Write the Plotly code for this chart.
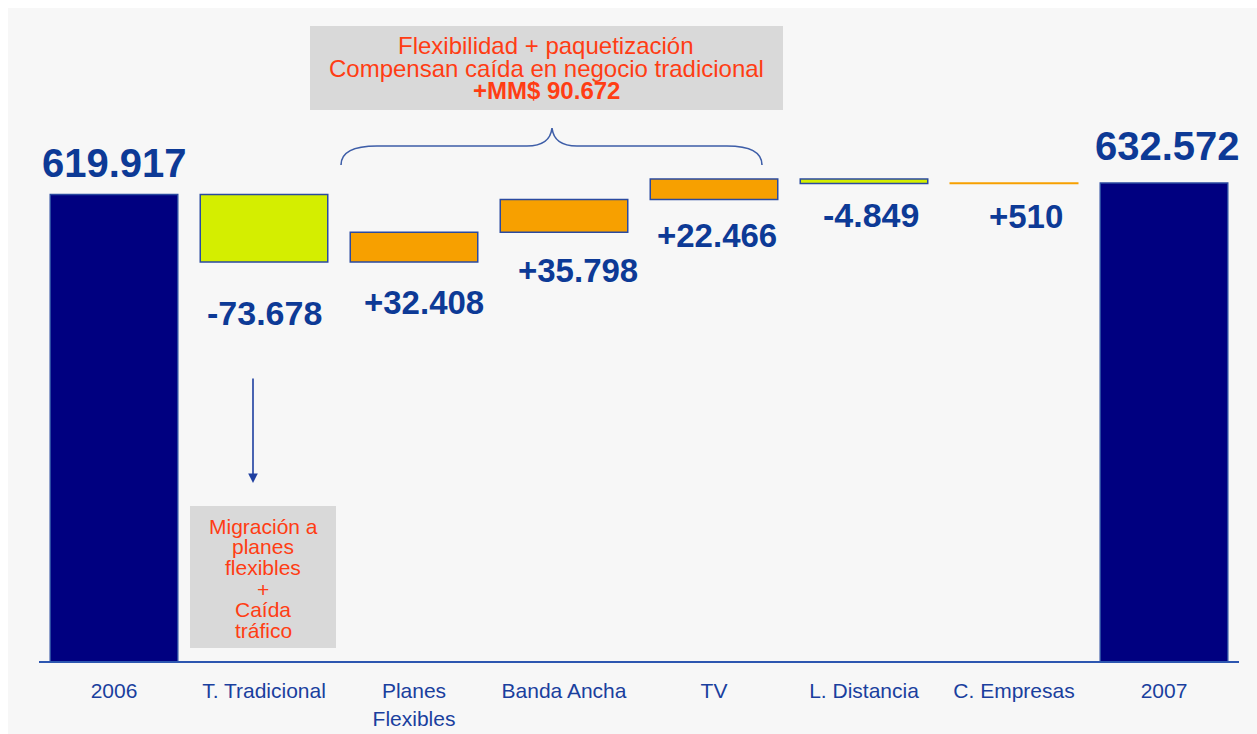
import plotly.graph_objects as go

# ---------------- data ----------------
categories = ["2006", "T. Tradicional", "Planes<br>Flexibles", "Banda Ancha", "TV",
              "L. Distancia", "C. Empresas", "2007"]
values = [619917, -73678, 32408, 35798, 22466, -4849, 510, 632572]
measures = ["total", "relative", "relative", "relative", "relative", "relative", "relative", "total"]
bar_colors = ["#000080", "#d4ee00", "#f7a000", "#f7a000", "#f7a000", "#d4ee00", "#f7a000", "#000080"]
line_colors = ["#2a4aa0", "#2a4aa0", "#2a4aa0", "#2a4aa0", "#2a4aa0", "#2a4aa0", "#f7a000", "#2a4aa0"]

top_box_lines = ["Flexibilidad + paquetización", "Compensan caída en negocio tradicional", "<b>+MM$ 90.672</b>"]
side_box_lines = ["Migración a", "planes", "flexibles", "+", "Caída", "tráfico"]

# ---------------- waterfall geometry via bases ----------------
bases, heights, tops, bottoms = [], [], [], []
running = 0
for v, m in zip(values, measures):
    if m == "total":
        b, h = 0, v
        running = v
    else:
        b = min(running, running + v)
        h = abs(v)
        running = running + v
    bases.append(b)
    heights.append(h)
    tops.append(b + h)
    bottoms.append(b)


def fmt(v, m):
    s = f"{abs(v):,}".replace(",", ".")
    if m == "total":
        return s
    return ("+" if v >= 0 else "-") + s


# ---------------- layout constants (pixels) ----------------
W, H = 1257, 734
L, R, T, B = 39, 1239, 20, 661
scale = 0.915 / 1000.0        # px per unit
y_lo = 110170
y_hi = y_lo + (B - T) / scale


def px(x):
    return (x - L) / (R - L)


def py(y):
    return (B - y) / (B - T)


fig = go.Figure()
fig.add_trace(go.Bar(
    x=list(range(len(categories))), y=heights, base=bases,
    marker=dict(color=bar_colors, line=dict(color=line_colors, width=1.5)),
    width=0.85, hoverinfo="skip", showlegend=False,
))

VAL_COLOR = "#0d3a96"
RED = "#ff3d14"
annotations = []

# value labels
label_dy = [32, -51, -40, -38, -36, -32, -33, 37]
label_dx = [0, 0, 10, 14, 3, 7, 12, 3]
for i, (v, m) in enumerate(zip(values, measures)):
    if m == "total":
        yref_val = tops[i]
        size = 40
    else:
        yref_val = bottoms[i]
        size = 34 if v < 0 else 33
    annotations.append(dict(
        x=i, y=yref_val, xref="x", yref="y", text=fmt(v, m), showarrow=False,
        xanchor="center", yanchor="middle", yshift=label_dy[i], xshift=label_dx[i],
        font=dict(family="Liberation Sans, Arial, sans-serif", size=size, color=VAL_COLOR, weight="bold"),
    ))

# top box text
for txt, yc in zip(top_box_lines, [45, 68, 91]):
    annotations.append(dict(
        x=px(546), y=py(yc), xref="paper", yref="paper", text=txt, showarrow=False,
        xanchor="center", yanchor="middle",
        font=dict(family="Liberation Sans, Arial, sans-serif", size=24, color=RED),
    ))

# side box text
for txt, yc in zip(side_box_lines, [526, 546, 567, 589, 609, 630]):
    annotations.append(dict(
        x=px(263), y=py(yc), xref="paper", yref="paper", text=txt, showarrow=False,
        xanchor="center", yanchor="middle",
        font=dict(family="Liberation Sans, Arial, sans-serif", size=21, color=RED),
    ))

# arrow
annotations.append(dict(
    x=px(253), y=py(483), xref="paper", yref="paper", text="", showarrow=True,
    ax=0, ay=-106, arrowhead=2, arrowsize=1.2, arrowwidth=1.6, arrowcolor="#1f3fa0",
))

shapes = [
    # gray background panel
    dict(type="rect", xref="paper", yref="paper", x0=px(8), x1=px(1257), y0=py(8), y1=py(734),
         fillcolor="#f7f7f7", line=dict(width=0), layer="below"),
    # top box
    dict(type="rect", xref="paper", yref="paper", x0=px(310), x1=px(783), y0=py(26), y1=py(110),
         fillcolor="#d9d9d9", line=dict(width=0), layer="below"),
    # side box
    dict(type="rect", xref="paper", yref="paper", x0=px(190), x1=px(336), y0=py(506), y1=py(648),
         fillcolor="#d9d9d9", line=dict(width=0), layer="below"),
]

# curly brace
pts = {
    "a": (341, 165), "b": (341, 146), "c": (377, 146), "d": (527, 146), "e": (550, 146),
    "f": (552, 128), "g": (554, 146), "h": (577, 146), "i": (727, 146), "j": (762, 146), "k": (762, 165),
}
P = {k: f"{px(x):.5f},{py(y):.5f}" for k, (x, y) in pts.items()}
path = (f"M {P['a']} Q {P['b']} {P['c']} L {P['d']} Q {P['e']} {P['f']} "
        f"Q {P['g']} {P['h']} L {P['i']} Q {P['j']} {P['k']}")
shapes.append(dict(type="path", xref="paper", yref="paper", path=path,
                   line=dict(color="#3e5ea8", width=1.6)))

fig.update_layout(
    width=W, height=H, autosize=False,
    margin=dict(l=L, r=W - R, t=T, b=H - B, pad=0, autoexpand=False),
    paper_bgcolor="white",
    plot_bgcolor="rgba(0,0,0,0)",
    showlegend=False,
    annotations=annotations,
    shapes=shapes,
    xaxis=dict(
        range=[-0.5, 7.5], showgrid=False, zeroline=False, automargin=False,
        tickmode="array", tickvals=list(range(len(categories))), ticktext=categories,
        showline=True, linecolor="#2d56b0", linewidth=2,
        ticks="", ticklabelstandoff=10,
        tickfont=dict(family="Liberation Sans, Arial, sans-serif", size=21, color="#1a3f9e"),
    ),
    yaxis=dict(range=[y_lo, y_hi], visible=False, showgrid=False, zeroline=False, automargin=False),
)

post = (
    "var d=document.getElementById('{plot_id}');"
    "d.style.position='fixed';d.style.top='0px';d.style.left='0px';"
    "document.documentElement.style.overflow='hidden';"
    "document.body.style.margin='0';document.body.style.padding='0';"
    "document.body.style.overflow='hidden';"
)

fig.write_html(
    "out.html",
    config={"responsive": False, "displayModeBar": False},
    post_script=post,
)
